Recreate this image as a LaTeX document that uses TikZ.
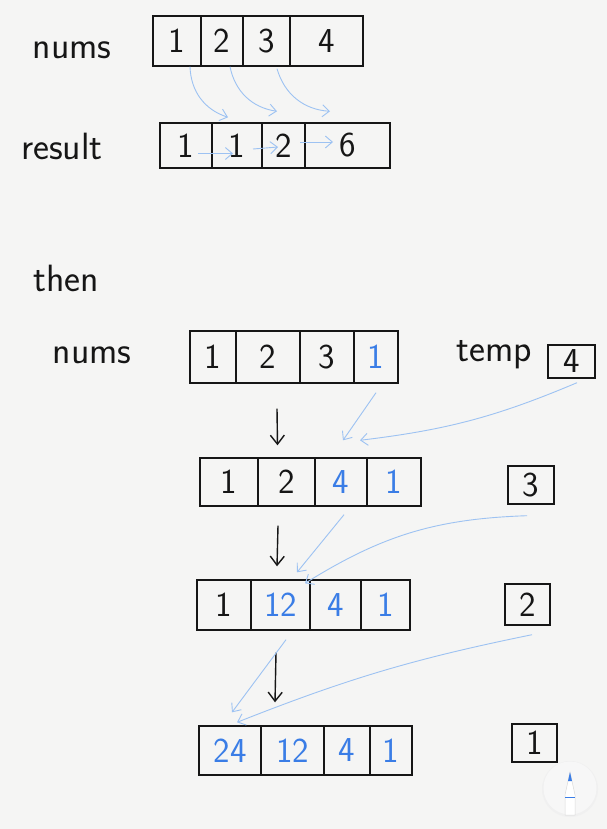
\documentclass[tikz,border=0pt]{standalone}
\usepackage{fontspec}
\usetikzlibrary{arrows.meta}
\definecolor{paper}{HTML}{F5F5F4}
\definecolor{ink}{HTML}{161616}
\definecolor{bluetxt}{HTML}{3A7DE6}
\definecolor{blueline}{HTML}{9DC2F2}
\tikzset{
  hand/.style={font=\sffamily\fontsize{35}{35}\selectfont},
  cell/.style={draw=ink, line width=1.4pt, inner sep=0pt, hand, text=ink},
  bl/.style={text=bluetxt},
  lbl/.style={font=\sffamily\fontsize{38}{38}\selectfont\addfontfeatures{LetterSpace=4}, text=ink, inner sep=0pt},
  flow/.style={draw=blueline, line width=0.9pt, -{Straight Barb[length=7pt,width=12pt]}},
  downarrow/.style={draw=ink, line width=1.4pt, -{Straight Barb[length=9pt,width=14pt]}},
}
\begin{document}
\begin{tikzpicture}[x=1pt,y=-1pt]
\fill[paper] (0,0) rectangle (607,829);
\useasboundingbox (0,0) rectangle (607,829);

% ---------- top: nums ----------
\node[lbl] (lnums) at (72,50) {nums};
\node[cell, minimum width=48pt, minimum height=50pt] (n1) at (177,41) {1};
\node[cell, minimum width=42pt, minimum height=50pt] (n2) at (222,41) {2};
\node[cell, minimum width=47pt, minimum height=50pt] (n3) at (266.5,41) {3};
\node[cell, minimum width=73pt, minimum height=50pt] (n4) at (326.5,41) {4};

% ---------- result ----------
\node[lbl] (lres) at (62,146) {result};
\node[cell, minimum width=52pt, minimum height=45pt] (r1) at (186,145.5) {1};
\node[cell, minimum width=50pt, minimum height=45pt] (r2) at (237,145.5) {1};
\node[cell, minimum width=43pt, minimum height=45pt] (r3) at (283.5,145.5) {2};
\node[cell, minimum width=85pt, minimum height=45pt] (r4) at (347.5,145.5) {6};

\draw[flow] ([xshift=13pt]n1.south) to[bend right=35] ([xshift=-9pt,yshift=5pt]r2.north);
\draw[flow] ([xshift=8pt]n2.south) to[bend right=35] ([xshift=-6.5pt,yshift=11pt]r3.north);
\draw[flow] ([xshift=10.5pt,yshift=-2pt]n3.south) to[bend right=35] ([xshift=-17.5pt,yshift=11pt]r4.north);

\draw[flow] ([xshift=12pt,yshift=-8pt]r1.center) -- ([xshift=-4pt,yshift=-8pt]r2.center);
\draw[flow] ([xshift=16pt,yshift=-3.5pt]r2.center) -- ([xshift=-5.5pt,yshift=-1.5pt]r3.center);
\draw[flow] ([xshift=16.5pt,yshift=3.5pt]r3.center) -- ([xshift=-14.5pt,yshift=3.5pt]r4.center);

% ---------- then ----------
\node[lbl] (lthen) at (66,278) {then};

% ---------- second nums ----------
\node[lbl] (lnums2) at (92,355) {nums};
\node[cell, minimum width=46pt, minimum height=52pt] (m1) at (213,357) {1};
\node[cell, minimum width=64pt, minimum height=52pt] (m2) at (268,357) {2};
\node[cell, minimum width=54pt, minimum height=52pt] (m3) at (327,357) {3};
\node[cell, minimum width=44pt, minimum height=52pt, bl] (m4) at (376,357) {1};

\node[lbl] (ltemp) at (494,355) {temp};
\node[cell, minimum width=47pt, minimum height=33pt] (t4) at (571.5,361.5) {4};

% ---------- row 3 ----------
\node[cell, minimum width=58pt, minimum height=48pt] (b1) at (229,482) {1};
\node[cell, minimum width=57pt, minimum height=48pt] (b2) at (286.5,482) {2};
\node[cell, minimum width=52pt, minimum height=48pt, bl] (b3) at (341,482) {4};
\node[cell, minimum width=54pt, minimum height=48pt, bl] (b4) at (394,482) {1};
\node[cell, minimum width=46pt, minimum height=38pt] (s3) at (531,485) {3};

\draw[downarrow] ([xshift=9pt,yshift=-25pt]m2.south) -- ([xshift=-9pt,yshift=12pt]b2.north);
\draw[flow] ([yshift=-9pt]m4.south) -- ([xshift=2pt,yshift=17pt]b3.north);
\draw[flow] ([xshift=5.5pt,yshift=-4pt]t4.south) to[bend left=8] ([xshift=19pt,yshift=17pt]b3.north);

% ---------- row 4 ----------
\node[cell, minimum width=54pt, minimum height=50pt] (c1) at (224,605) {1};
\node[cell, minimum width=59pt, minimum height=50pt, bl] (c2) at (280.5,605) {12};
\node[cell, minimum width=51pt, minimum height=50pt, bl] (c3) at (335.5,605) {4};
\node[cell, minimum width=49pt, minimum height=50pt, bl] (c4) at (385.5,605) {1};
\node[cell, minimum width=45pt, minimum height=41pt] (s2) at (527.5,604.5) {2};

\draw[downarrow] ([xshift=-8.5pt,yshift=-19pt]b2.south) -- ([xshift=-3.5pt,yshift=13pt]c2.north);
\draw[flow] ([xshift=3pt,yshift=-8pt]b3.south) -- ([xshift=16.5pt,yshift=7pt]c2.north);
\draw[flow] ([xshift=-4pt,yshift=-11pt]s3.south) to[bend right=15] ([xshift=24.5pt,yshift=-4pt]c2.north);

% ---------- row 5 ----------
\node[cell, minimum width=62pt, minimum height=49pt, bl] (d1) at (230,750.5) {24};
\node[cell, minimum width=63pt, minimum height=49pt, bl] (d2) at (292.5,750.5) {12};
\node[cell, minimum width=46pt, minimum height=49pt, bl] (d3) at (347,750.5) {4};
\node[cell, minimum width=42pt, minimum height=49pt, bl] (d4) at (391,750.5) {1};
\node[cell, minimum width=45pt, minimum height=38pt] (s1) at (534.5,743) {1};

\draw[downarrow] ([xshift=-4.5pt,yshift=-22pt]c2.south) -- ([xshift=-17.5pt,yshift=23pt]d2.north);
\draw[flow] ([xshift=5.5pt,yshift=-9pt]c2.south) -- ([xshift=2pt,yshift=13pt]d1.north);
\draw[flow] ([xshift=4.5pt,yshift=-9pt]s2.south) to[bend right=5] ([xshift=7pt,yshift=3pt]d1.north);

% ---------- pencil button ----------
\fill[black!6] (570,789) circle (28);
\fill[white!97!black] (570,788) circle (26.5);
\fill[white, draw=black!15, line width=0.5pt] (570,772) -- (575,795) -- (575,815) -- (565,815) -- (565,795) -- cycle;
\fill[bluetxt] (570,772) -- (572,781) -- (568,781) -- cycle;
\draw[bluetxt, line width=1pt] (565,797) -- (575,797);
\end{tikzpicture}
\end{document}
